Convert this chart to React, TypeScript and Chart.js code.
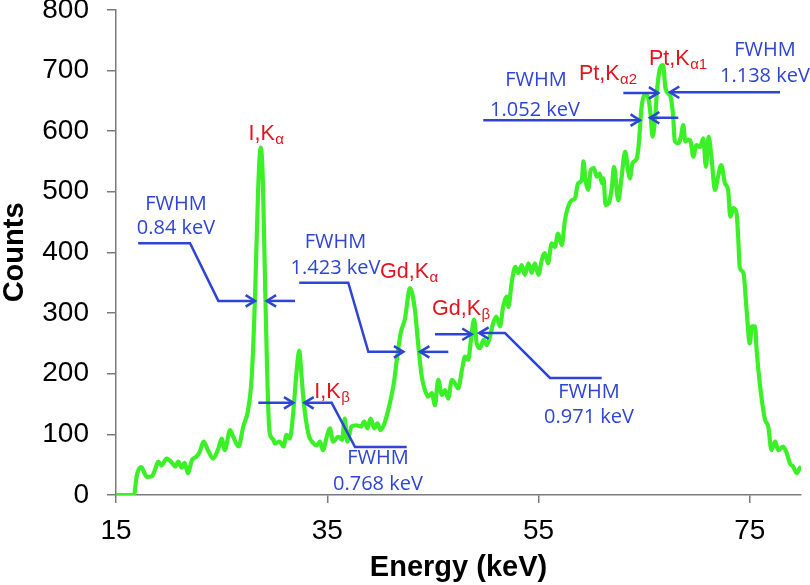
import React, { useEffect, useRef } from 'react';
import { Chart, registerables } from 'chart.js';

Chart.register(...registerables);

// ---- Data ----
const energyKeV = [
  15.0, 16.7, 16.95, 17.1, 17.4, 17.7, 17.9, 18.4, 18.7, 19.0, 19.3, 19.8, 20.3, 20.6, 20.9, 21.2, 21.5, 21.8,
  22.2, 22.6, 22.9, 23.3, 23.7, 24.2, 24.7, 25.0, 25.3, 25.8, 26.1, 26.6, 27.05, 27.5, 27.85, 28.15, 28.45,
  28.7, 28.9, 29.1, 29.3, 29.5, 29.7, 29.9, 30.05, 30.5, 30.85, 31.15, 31.45, 31.8, 32.1, 32.35, 32.55, 32.75,
  33.2, 33.7, 34.0, 34.3, 34.6, 34.95, 35.25, 35.55, 36.05, 36.4, 36.65, 36.9, 37.3, 37.7, 38.2, 38.5, 38.8,
  39.1, 39.45, 39.75, 40.05, 40.35, 40.7, 41.0, 41.3, 41.6, 41.95, 42.35, 42.83, 43.3, 43.6, 43.95, 44.25,
  44.55, 44.9, 45.2, 45.5, 45.85, 46.15, 46.45, 46.8, 47.1, 47.4, 47.75, 48.05, 48.35, 48.6, 48.9, 49.15,
  49.45, 49.8, 50.1, 50.4, 50.7, 51.0, 51.35, 51.65, 52.0, 52.15, 52.45, 52.8, 53.1, 53.4, 53.7, 54.05, 54.35,
  54.65, 55.0, 55.3, 55.6, 55.9, 56.25, 56.55, 56.85, 57.2, 57.5, 57.8, 58.15, 58.45, 58.75, 59.1, 59.25,
  59.45, 59.7, 59.95, 60.25, 60.5, 60.8, 61.0, 61.15, 61.35, 61.65, 61.95, 62.15, 62.55, 62.85, 63.2, 63.5,
  63.65, 63.9, 64.3, 64.5, 64.75, 65.1, 65.4, 65.6, 65.8, 66.05, 66.25, 66.55, 66.8, 67.0, 67.3, 67.5, 67.75,
  67.9, 68.25, 68.5, 68.7, 68.9, 69.2, 69.4, 69.65, 69.95, 70.3, 70.6, 70.85, 71.1, 71.4, 71.7, 72.0, 72.3,
  72.65, 72.95, 73.15, 73.45, 73.75, 73.9, 74.05, 74.4, 74.7, 75.0, 75.2, 75.5, 75.65, 75.95, 76.45, 76.75,
  77.05, 77.4, 77.7, 78.15, 78.5, 78.8, 79.1, 79.45, 79.75,
];

const counts = [
  0, 0, 30, 40, 46, 36, 30, 31, 42, 55, 49, 60, 53, 47, 55, 45, 53, 36,
  58, 63, 70, 88, 74, 60, 77, 93, 74, 107, 96, 80, 113, 140, 195, 320, 500,
  573, 520, 360, 210, 110, 95, 91, 85, 88, 80, 99, 93, 140, 205, 238, 200, 157,
  102, 85, 82, 88, 74, 96, 110, 88, 96, 91, 126, 88, 113, 115, 113, 121, 110,
  126, 110, 118, 107, 115, 135, 157, 184, 225, 267, 290, 341, 305, 250, 195, 173,
  162, 168, 148, 190, 165, 173, 159, 190, 184, 176, 206, 228, 223, 255, 289, 250,
  242, 256, 247, 261, 283, 294, 278, 310, 327, 310, 349, 376, 366, 379, 363, 382, 366,
  382, 363, 387, 399, 382, 415, 409, 431, 412, 453, 475, 486, 489, 514, 519, 550,
  519, 503, 536, 539, 525, 530, 514, 522, 478, 481, 508, 541, 486, 522, 566, 533,
  522, 547, 555, 580, 638, 660, 654, 629, 591, 624, 673, 706, 709, 673, 662, 657, 624,
  583, 580, 592, 610, 583, 586, 583, 558, 577, 574, 588, 541, 591, 552, 503, 525, 544,
  514, 503, 459, 473, 464, 426, 376, 366, 305, 250, 278, 278, 239, 184, 124, 113,
  74, 88, 74, 80, 69, 52, 47, 36, 45,
];

const xTickValues = [15, 35, 55, 75];
const yTickValues = [0, 100, 200, 300, 400, 500, 600, 700, 800];

// FWHM leader lines, in data units (keV, counts); the last point is the arrow tip
const fwhmArrows: number[][][] = [
  [[17.1, 415], [22.01, 415], [24.69, 320], [28.16, 320]],
  [[31.95, 320], [29.27, 320]],
  [[32.35, 350], [36.99, 350], [38.89, 236], [42.2, 236]],
  [[46.46, 236], [43.78, 236]],
  [[28.47, 152], [31.79, 152]],
  [[42.52, 79], [37.63, 79], [35.42, 152], [32.83, 152]],
  [[45.2, 265], [48.67, 265]],
  [[60.98, 193], [56.09, 193], [51.83, 267], [49.39, 267]],
  [[49.77, 618], [64.6, 618]],
  [[68.23, 622], [65.55, 622]],
  [[63.03, 663], [66.34, 663]],
  [[77.86, 664], [67.44, 664]],
];

const fwhmTexts = [
  { text: 'FWHM', e: 20.68, c: 480 },
  { text: '0.84 keV', e: 20.68, c: 439 },
  { text: 'FWHM', e: 35.78, c: 416 },
  { text: '1.423 keV', e: 35.78, c: 374 },
  { text: 'FWHM', e: 39.8, c: 61 },
  { text: '0.768 keV', e: 39.8, c: 18 },
  { text: 'FWHM', e: 59.78, c: 170 },
  { text: '0.971 keV', e: 59.78, c: 128 },
  { text: 'FWHM', e: 54.76, c: 683 },
  { text: '1.052 keV', e: 54.67, c: 635 },
  { text: 'FWHM', e: 76.44, c: 734 },
  { text: '1.138 keV', e: 76.44, c: 691 },
];

const peakLabels = [
  { main: 'I,K', sub: 'α', e: 27.55, c: 585 },
  { main: 'Gd,K', sub: 'α', e: 40.0, c: 357 },
  { main: 'I,K', sub: 'β', e: 33.78, c: 160 },
  { main: 'Gd,K', sub: 'β', e: 44.92, c: 297 },
  { main: 'Pt,K', sub: 'α2', e: 58.83, c: 684 },
  { main: 'Pt,K', sub: 'α1', e: 65.46, c: 709 },
];

const GREEN = 'rgb(60, 240, 40)';
const BLUE = '#2E44D4';
const RED = '#E3141E';
const AXIS = '#7a7a7a';
const FONT = '"Liberation Sans", Arial, sans-serif';
const TOP_SHIFT = 18;

export default function App() {
  const ref = useRef<HTMLCanvasElement>(null);

  useEffect(() => {
    document.body.style.margin = '0';
    const canvas = ref.current;
    if (!canvas) return;

    const annotationPlugin = {
      id: 'fwhmAnnotations',
      afterDatasetsDraw(chart: any) {
        const { ctx } = chart;
        const xs = chart.scales.x;
        const ys = chart.scales.y;
        const px = (v: number) => xs.getPixelForValue(v);
        const py = (v: number) => ys.getPixelForValue(v);
        ctx.save();
        ctx.strokeStyle = BLUE;
        ctx.lineWidth = 2.5;
        ctx.lineJoin = 'miter';
        ctx.lineCap = 'butt';
        for (const path of fwhmArrows) {
          ctx.beginPath();
          path.forEach(([e, c], i) => {
            const X = px(e);
            const Y = py(c);
            if (i === 0) ctx.moveTo(X, Y);
            else ctx.lineTo(X, Y);
          });
          ctx.stroke();
          const [e1, c1] = path[path.length - 2];
          const [e2, c2] = path[path.length - 1];
          const x1 = px(e1), y1 = py(c1), x2 = px(e2), y2 = py(c2);
          const ang = Math.atan2(y2 - y1, x2 - x1);
          const L = 11;
          const A = 0.55;
          ctx.beginPath();
          ctx.moveTo(x2 - L * Math.cos(ang - A), y2 - L * Math.sin(ang - A));
          ctx.lineTo(x2, y2);
          ctx.lineTo(x2 - L * Math.cos(ang + A), y2 - L * Math.sin(ang + A));
          ctx.stroke();
        }

        ctx.fillStyle = BLUE;
        ctx.font = '20px "Open Sans", sans-serif';
        ctx.textAlign = 'center';
        ctx.textBaseline = 'middle';
        for (const t of fwhmTexts) ctx.fillText(t.text, px(t.e), py(t.c));

        ctx.fillStyle = RED;
        ctx.textAlign = 'left';
        ctx.textBaseline = 'alphabetic';
        for (const l of peakLabels) {
          const X = px(l.e);
          const Y = py(l.c);
          ctx.font = `21.5px ${FONT}`;
          ctx.fillText(l.main, X, Y);
          const w = ctx.measureText(l.main).width;
          ctx.font = `15px ${FONT}`;
          ctx.fillText(l.sub, X + w + 0.5, Y + 4);
        }
        ctx.restore();
      },
    };

    const chart = new Chart(canvas, {
      type: 'line',
      data: {
        datasets: [
          {
            data: energyKeV.map((e, i) => ({ x: e, y: counts[i] })),
            borderColor: GREEN,
            borderWidth: 4.2,
            pointRadius: 0,
            fill: false,
            cubicInterpolationMode: 'monotone',
            borderJoinStyle: 'round',
            borderCapStyle: 'round',
          },
        ],
      },
      options: {
        responsive: false,
        animation: false,
        devicePixelRatio: 1,
        layout: { padding: { left: 0, right: 9, top: 0, bottom: 0 } },
        plugins: { legend: { display: false }, tooltip: { enabled: false } },
        scales: {
          x: {
            type: 'linear',
            min: 15,
            max: 79.85,
            afterBuildTicks: (s: any) => {
              s.ticks = xTickValues.map((v) => ({ value: v }));
            },
            afterFit: (s: any) => {
              s.height = 90;
            },
            ticks: {
              font: { family: FONT, size: 28 },
              color: '#000',
              padding: 11,
              maxRotation: 0,
              autoSkip: false,
            },
            grid: { drawOnChartArea: false, drawTicks: true, tickLength: 8, color: AXIS, lineWidth: 1.5 },
            border: { display: true, color: AXIS, width: 1.5 },
            title: {
              display: true,
              text: 'Energy (keV)',
              color: '#000',
              font: { family: FONT, size: 29, weight: 'bold', lineHeight: 1 },
              padding: { top: 0, bottom: 3 },
            },
          },
          y: {
            min: 0,
            max: 800,
            afterBuildTicks: (s: any) => {
              s.ticks = yTickValues.map((v) => ({ value: v }));
            },
            afterFit: (s: any) => {
              s.width = 116;
            },
            ticks: {
              font: { family: FONT, size: 28, lineHeight: 0.7 },
              color: '#000',
              padding: 18,
            },
            grid: { drawOnChartArea: false, drawTicks: true, tickLength: 9, color: AXIS, lineWidth: 1.5 },
            border: { display: true, color: AXIS, width: 1.5 },
            title: {
              display: true,
              text: 'Counts',
              color: '#000',
              font: { family: FONT, size: 29, weight: 'bold', lineHeight: 1 },
              padding: { top: 0, bottom: 0 },
            },
          },
        },
      },
      plugins: [annotationPlugin],
    } as any);

    return () => chart.destroy();
  }, []);

  return (
    <div style={{ width: 810, height: 585, overflow: 'hidden', position: 'relative' }}>
      <canvas
        ref={ref}
        width={810}
        height={585 + TOP_SHIFT}
        style={{ display: 'block', marginTop: -TOP_SHIFT }}
      />
    </div>
  );
}
